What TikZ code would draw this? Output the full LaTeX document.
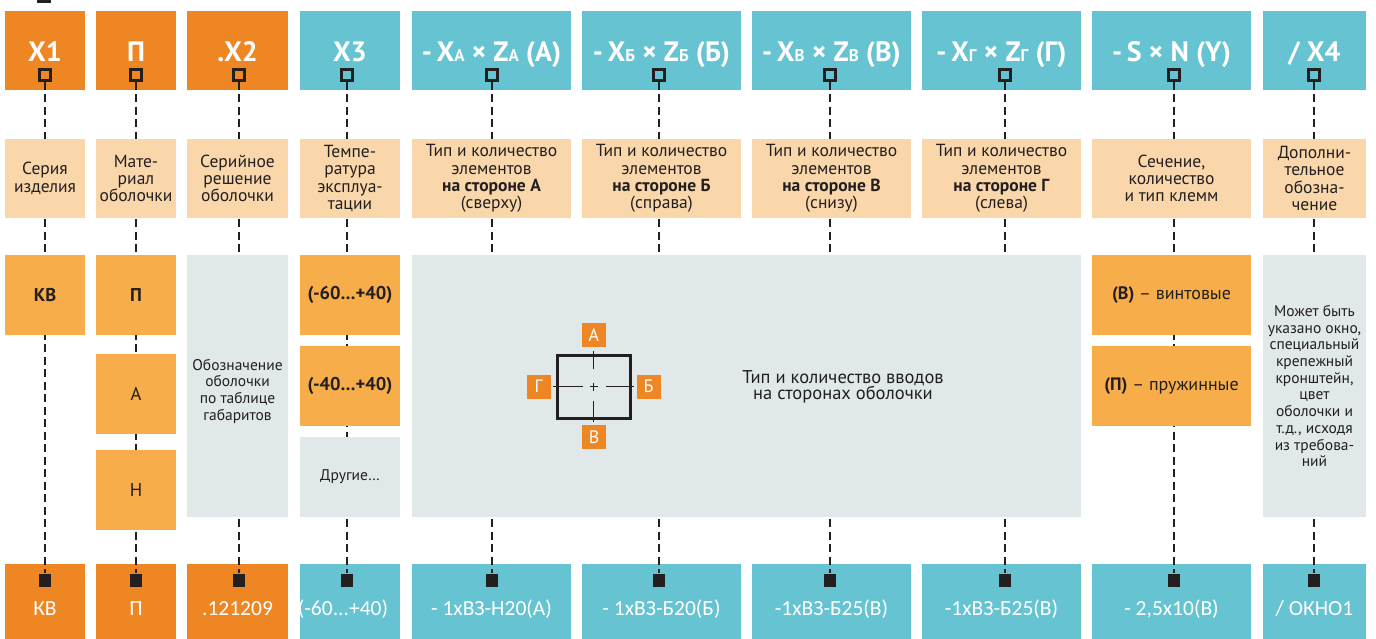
\documentclass[tikz,border=0pt]{standalone}
\usepackage{fontspec}
\setmainfont{PT Sans}
\newfontfamily\codefont{Carlito}
\definecolor{Orange}{RGB}{238, 134, 35}
\definecolor{Orange40}{RGB}{246, 173, 74}
\definecolor{Peach}{RGB}{249, 215, 171}
\definecolor{Cyan50}{RGB}{102, 195, 209}
\definecolor{Gray10}{RGB}{225, 232, 234}
\definecolor{Ink}{RGB}{35, 31, 32}
\newcommand{\idx}[1]{{\fontsize{17}{17}\selectfont #1}}

\begin{document}
\begin{tikzpicture}[
        x=1pt, y=-1pt,
        box/.style = {rectangle, inner sep=0pt, align=center, text=Ink},
        head/.style = {box, fill=#1, text=white, minimum height=79, text height=23pt, text depth=0pt, font=\fontsize{28}{28}\selectfont\bfseries},
        what/.style = {box, fill=Peach, minimum height=79, font=\fontsize{17.5}{17.3}\selectfont},
        opt/.style = {box, fill=Orange40, minimum height=80, font=\fontsize{18.5}{18.5}\selectfont\bfseries},
        note/.style = {box, fill=Gray10, font=\fontsize{15.5}{16.7}\selectfont},
        code/.style = {box, fill=#1, text=white, minimum height=76, text height=26pt, text depth=0pt, font=\fontsize{21.5}{21.5}\codefont},
        hole/.style = {rectangle, draw=Ink, line width=2.2pt, minimum size=11, inner sep=0pt},
        pin/.style = {rectangle, fill=Ink, minimum width=12, minimum height=13, inner sep=0pt},
        link/.style = {draw=Ink, line width=2.4pt, dash pattern=on 8pt off 4.5pt},
        side/.style = {box, fill=Orange, text=white, minimum size=24, font=\fontsize{18}{18}\selectfont}
    ]
    \useasboundingbox (0,0) rectangle (1376,639);
    \fill[Ink] (37,0) rectangle (51,3);

    % code fields
    \node (h1)  at (45,50.5)     [head=Orange, minimum width=80]  {X1};
    \node (h2)  at (136,50.5)    [head=Orange, minimum width=80]  {П};
    \node (h3)  at (237.5,50.5)  [head=Orange, minimum width=101] {.X2};
    \node (h4)  at (350,50.5)    [head=Cyan50, minimum width=100] {X3};
    \node (h5)  at (491.5,50.5)  [head=Cyan50, minimum width=159] {-\,X\idx{А} × Z\idx{А} (А)};
    \node (h6)  at (661.5,50.5)  [head=Cyan50, minimum width=159] {-\,X\idx{Б} × Z\idx{Б} (Б)};
    \node (h7)  at (831.5,50.5)  [head=Cyan50, minimum width=159] {-\,X\idx{В} × Z\idx{В} (В)};
    \node (h8)  at (1001.5,50.5) [head=Cyan50, minimum width=159] {-\,X\idx{Г} × Z\idx{Г} (Г)};
    \node (h9)  at (1171.5,50.5) [head=Cyan50, minimum width=159] {-\,S × N (Y)};
    \node (h10) at (1314.5,50.5) [head=Cyan50, minimum width=103] {/ X4};

    % example code
    \node (c1)  at (45,602)     [code=Orange, minimum width=80]  {КВ};
    \node (c2)  at (136,602)    [code=Orange, minimum width=80]  {П};
    \node (c3)  at (237.5,602)  [code=Orange, minimum width=101] {.121209};
    \node (c4)  at (350,602)    [code=Cyan50, minimum width=100] {};
    \node (c5)  at (491.5,602)  [code=Cyan50, minimum width=159] {- 1хВЗ-Н20(А)};
    \node (c6)  at (661.5,602)  [code=Cyan50, minimum width=159] {- 1хВЗ-Б20(Б)};
    \node (c7)  at (831.5,602)  [code=Cyan50, minimum width=159] {-1хВЗ-Б25(В)};
    \node (c8)  at (1001.5,602) [code=Cyan50, minimum width=159] {-1хВЗ-Б25(В)};
    \node (c9)  at (1171.5,602) [code=Cyan50, minimum width=159] {- 2,5х10(В)};
    \node (c10) at (1314.5,602) [code=Cyan50, minimum width=103] {/ ОКНО1};
    \node at (343,602) [box, text=white, text height=26pt, text depth=0pt, font=\fontsize{21.5}{21.5}\codefont] {(-60...+40)};

    \node (t1)  at (45,75)   [hole] {};
    \node (t2)  at (136,75)  [hole] {};
    \node (t3)  at (239,75)  [hole] {};
    \node (t4)  at (347,75)  [hole] {};
    \node (t5)  at (492,75)  [hole] {};
    \node (t6)  at (659,75)  [hole] {};
    \node (t7)  at (830,75)  [hole] {};
    \node (t8)  at (1005,75) [hole] {};
    \node (t9)  at (1174,75) [hole] {};
    \node (t10) at (1314,75) [hole] {};

    \node (b1)  at (45,580)   [pin] {};
    \node (b2)  at (136,580)  [pin] {};
    \node (b3)  at (239,580)  [pin] {};
    \node (b4)  at (347,580)  [pin] {};
    \node (b5)  at (492,580)  [pin] {};
    \node (b6)  at (659,580)  [pin] {};
    \node (b7)  at (830,580)  [pin] {};
    \node (b8)  at (1005,580) [pin] {};
    \node (b9)  at (1174,580) [pin] {};
    \node (b10) at (1314,580) [pin] {};

    \draw[link] (t1) -- (b1);
    \draw[link] (t2) -- (b2);
    \draw[link] (t3) -- (b3);
    \draw[link] (t4) -- (b4);
    \draw[link] (t5) -- (b5);
    \draw[link] (t6) -- (b6);
    \draw[link] (t7) -- (b7);
    \draw[link] (t8) -- (b8);
    \draw[link] (t9) -- (b9);
    \draw[link] (t10) -- (b10);

    % meaning of each field
    \node (w1)  at (45,178.5)     [what, minimum width=80]  {Серия\\изделия};
    \node (w2)  at (136,178.5)    [what, minimum width=80]  {Мате-\\риал\\оболочки};
    \node (w3)  at (237.5,178.5)  [what, minimum width=101] {Серийное\\решение\\оболочки};
    \node (w4)  at (350,178.5)    [what, minimum width=100] {Темпе-\\ратура\\эксплуа-\\тации};
    \node (w5)  at (491.5,178.5)  [what, minimum width=159] {Тип и количество\\элементов\\\textbf{на стороне А}\\(сверху)};
    \node (w6)  at (661.5,178.5)  [what, minimum width=159] {Тип и количество\\элементов\\\textbf{на стороне Б}\\(справа)};
    \node (w7)  at (831.5,178.5)  [what, minimum width=159] {Тип и количество\\элементов\\\textbf{на стороне В}\\(снизу)};
    \node (w8)  at (1001.5,178.5) [what, minimum width=159] {Тип и количество\\элементов\\\textbf{на стороне Г}\\(слева)};
    \node (w9)  at (1171.5,178.5) [what, minimum width=159] {Сечение,\\количество\\и тип клемм};
    \node (w10) at (1314.5,178.5) [what, minimum width=103] {Дополни-\\тельное\\обозна-\\чение};

    % possible values
    \node (kv)   at (45,295)  [opt, minimum width=80] {КВ};
    \node (matP) at (136,295) [opt, minimum width=80] {П};
    \node (matA) at (136,394) [opt, minimum width=80, font=\fontsize{18.5}{18.5}\selectfont] {А};
    \node (matN) at (136,490) [opt, minimum width=80, font=\fontsize{18.5}{18.5}\selectfont] {Н};
    \node (ser)  at (237.5,386) [note, minimum width=101, minimum height=262] {};
    \node (serT) at (237.5,391) [box, font=\fontsize{15.5}{16.7}\selectfont] {Обозначение\\оболочки\\по таблице\\габаритов};
    \node (tmp1) at (350,295) [opt, minimum width=100] {(-60…+40)};
    \node (tmp2) at (350,386) [opt, minimum width=100] {(-40…+40)};
    \node (tmp3) at (350,477) [note, minimum width=100, minimum height=80] {Другие…};
    \node (ent)  at (746.5,386) [note, minimum width=669, minimum height=262] {};
    \node (clV)  at (1171.5,295) [opt, minimum width=159, font=\fontsize{18}{18}\selectfont] {\textbf{(В)} – винтовые};
    \node (clP)  at (1171.5,386) [opt, minimum width=159, font=\fontsize{18}{18}\selectfont] {\textbf{(П)} – пружинные};
    \node (ext)  at (1314.5,386) [note, minimum width=103, minimum height=262] {Может быть\\указано окно,\\специальный\\крепежный\\кронштейн,\\цвет\\оболочки и\\т.д., исходя\\из требова-\\ний};

    % sides of the enclosure
    \draw[Ink, line width=3pt] (557,355) rectangle (630,418);
    \draw[Ink, line width=1.2pt] (553,386.5) -- (583,386.5) (606,386.5) -- (634,386.5)
        (593.5,351) -- (593.5,369) (593.5,401) -- (593.5,422)
        (589.5,386.5) -- (597.5,386.5) (593.5,382.5) -- (593.5,390.5);
    \node (sA) at (594,335)   [side] {А};
    \node (sB) at (648.5,386.5) [side] {Б};
    \node (sV) at (594,437)   [side] {В};
    \node (sG) at (538.5,386.5) [side] {Г};
    \node (entT) at (843,387) [box, font=\fontsize{18.5}{16.7}\selectfont] {Тип и количество вводов\\на сторонах оболочки};
\end{tikzpicture}
\end{document}
